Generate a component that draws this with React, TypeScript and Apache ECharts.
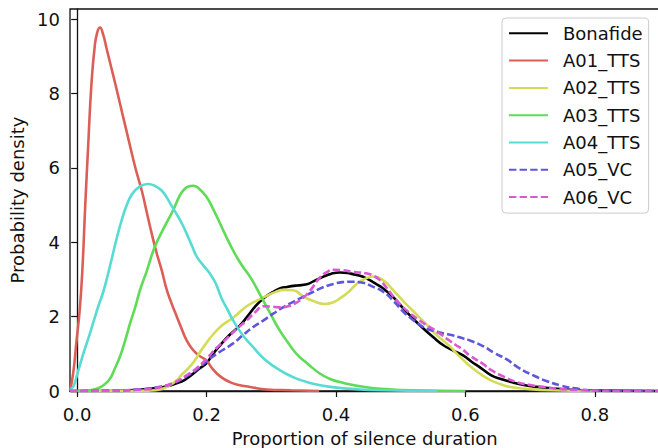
import React, { useEffect, useRef } from "react";
import * as echarts from "echarts";

const seriesNames = ["Bonafide", "A01_TTS", "A02_TTS", "A03_TTS", "A04_TTS", "A05_VC", "A06_VC"];
const seriesColors = ["#000000", "#db5f57", "#d3db57", "#5fdb57", "#57dbd3", "#5f57db", "#db57d3"];
const seriesDashed = [false, false, false, false, false, true, true];

const xTicks = [0, 0.2, 0.4, 0.6, 0.8];
const yTicks = [0, 2, 4, 6, 8, 10];

const bonafide: [number, number][] = [
  [-0.011, 0], [0.05, 0], [0.1, 0.04], [0.13, 0.1], [0.144, 0.15], [0.159, 0.24], [0.169, 0.33],
  [0.19, 0.62], [0.2, 0.75], [0.21, 1.0], [0.221, 1.23], [0.235, 1.5], [0.252, 1.77], [0.265, 2.05],
  [0.277, 2.31], [0.29, 2.52], [0.303, 2.67], [0.315, 2.77], [0.324, 2.8], [0.34, 2.84], [0.355, 2.87],
  [0.365, 2.95], [0.38, 3.07], [0.392, 3.15], [0.406, 3.19], [0.422, 3.16], [0.437, 3.1], [0.447, 3.03],
  [0.46, 2.9], [0.473, 2.76], [0.49, 2.5], [0.504, 2.22], [0.52, 1.93], [0.535, 1.68], [0.55, 1.45],
  [0.566, 1.23], [0.58, 1.1], [0.597, 0.95], [0.61, 0.78], [0.623, 0.63], [0.64, 0.42], [0.655, 0.32],
  [0.669, 0.25], [0.69, 0.16], [0.71, 0.11], [0.757, 0.04], [0.8, 0.01], [0.9, 0],
];

const a01: [number, number][] = [
  [-0.011, 0], [-0.006, 0.5], [-0.001, 1.35], [0.004, 2.2], [0.008, 3.25], [0.0125, 5.0], [0.017, 6.6],
  [0.022, 8.25], [0.027, 9.25], [0.031, 9.65], [0.0352, 9.78], [0.04, 9.6], [0.0456, 9.2], [0.052, 8.75],
  [0.0584, 8.3], [0.07, 7.45], [0.08, 6.72], [0.09, 6.0], [0.0997, 5.4], [0.107, 4.85], [0.115, 4.25],
  [0.123, 3.7], [0.1306, 3.25], [0.138, 2.75], [0.146, 2.35], [0.154, 2.0], [0.162, 1.65], [0.169, 1.37],
  [0.177, 1.15], [0.185, 1.0], [0.193, 0.9], [0.2, 0.82], [0.21, 0.58], [0.222, 0.38], [0.236, 0.24],
  [0.25, 0.16], [0.267, 0.11], [0.293, 0.04], [0.33, 0.02], [0.374, 0],
];

const a02: [number, number][] = [
  [-0.011, 0], [0.08, 0], [0.11, 0.01], [0.128, 0.04], [0.14, 0.12], [0.154, 0.29], [0.162, 0.45],
  [0.169, 0.56], [0.18, 0.78], [0.19, 1.05], [0.2, 1.3], [0.21, 1.52], [0.225, 1.78], [0.241, 1.97],
  [0.262, 2.28], [0.28, 2.45], [0.293, 2.56], [0.306, 2.66], [0.319, 2.72], [0.334, 2.71], [0.349, 2.55],
  [0.365, 2.42], [0.383, 2.34], [0.395, 2.38], [0.406, 2.49], [0.417, 2.63], [0.432, 2.88], [0.445, 3.02],
  [0.458, 3.08], [0.475, 2.95], [0.489, 2.7], [0.505, 2.4], [0.525, 2.05], [0.545, 1.7], [0.556, 1.5],
  [0.576, 1.2], [0.587, 1.0], [0.607, 0.67], [0.623, 0.46], [0.638, 0.3], [0.655, 0.18], [0.669, 0.11],
  [0.7, 0.05], [0.731, 0.02], [0.8, 0],
];

const a03: [number, number][] = [
  [0, 0], [0.015, 0.01], [0.03, 0.06], [0.04, 0.15], [0.0507, 0.33], [0.058, 0.6], [0.066, 0.92],
  [0.074, 1.35], [0.0816, 1.81], [0.09, 2.27], [0.097, 2.71], [0.107, 3.2], [0.12, 3.88], [0.135, 4.42],
  [0.1485, 4.87], [0.157, 5.2], [0.164, 5.4], [0.172, 5.5], [0.179, 5.52], [0.188, 5.45], [0.2, 5.22],
  [0.21, 4.9], [0.221, 4.5], [0.236, 3.95], [0.252, 3.45], [0.268, 3.05], [0.283, 2.58], [0.298, 2.1],
  [0.313, 1.63], [0.326, 1.3], [0.339, 1.0], [0.357, 0.72], [0.375, 0.47], [0.39, 0.33], [0.406, 0.24],
  [0.447, 0.1], [0.48, 0.05], [0.519, 0.02], [0.6, 0],
];

const a04: [number, number][] = [
  [-0.011, 0.05], [-0.006, 0.12], [0, 0.45], [0.0094, 1.0], [0.017, 1.4], [0.025, 1.85], [0.033, 2.3],
  [0.04, 2.65], [0.047, 3.1], [0.054, 3.6], [0.061, 4.1], [0.068, 4.55], [0.0765, 5.0], [0.085, 5.3],
  [0.095, 5.48], [0.109, 5.57], [0.12, 5.52], [0.13, 5.4], [0.138, 5.22], [0.146, 4.98], [0.154, 4.75],
  [0.162, 4.5], [0.169, 4.24], [0.177, 3.92], [0.185, 3.61], [0.195, 3.38], [0.205, 3.16], [0.214, 2.9],
  [0.223, 2.5], [0.232, 2.2], [0.241, 1.9], [0.256, 1.5], [0.272, 1.18], [0.29, 0.85], [0.313, 0.56],
  [0.334, 0.37], [0.355, 0.24], [0.391, 0.11], [0.43, 0.05], [0.468, 0.02], [0.556, 0],
];

const a05: [number, number][] = [
  [-0.011, 0], [0.05, 0.01], [0.1, 0.05], [0.13, 0.12], [0.15, 0.22], [0.169, 0.4], [0.185, 0.58],
  [0.2, 0.8], [0.22, 1.05], [0.241, 1.28], [0.256, 1.5], [0.272, 1.72], [0.288, 1.9], [0.303, 2.08],
  [0.318, 2.25], [0.334, 2.4], [0.35, 2.54], [0.365, 2.67], [0.38, 2.79], [0.396, 2.88], [0.41, 2.93],
  [0.422, 2.94], [0.442, 2.91], [0.455, 2.82], [0.473, 2.67], [0.49, 2.4], [0.504, 2.13], [0.52, 1.9],
  [0.535, 1.72], [0.55, 1.62], [0.566, 1.55], [0.58, 1.5], [0.597, 1.41], [0.607, 1.36], [0.628, 1.2],
  [0.645, 1.02], [0.664, 0.85], [0.68, 0.65], [0.705, 0.42], [0.725, 0.27], [0.747, 0.15], [0.77, 0.07],
  [0.793, 0.02], [0.85, 0], [0.9, 0],
];

const a06: [number, number][] = [
  [-0.011, 0], [0.05, 0.01], [0.1, 0.04], [0.128, 0.1], [0.15, 0.23], [0.169, 0.42], [0.185, 0.62],
  [0.2, 0.87], [0.215, 1.15], [0.231, 1.41], [0.246, 1.66], [0.262, 1.9], [0.275, 2.12], [0.288, 2.28],
  [0.3, 2.27], [0.313, 2.25], [0.326, 2.28], [0.339, 2.38], [0.35, 2.52], [0.36, 2.7], [0.375, 3.05],
  [0.386, 3.2], [0.396, 3.26], [0.41, 3.25], [0.427, 3.2], [0.445, 3.17], [0.458, 3.1], [0.468, 2.98],
  [0.478, 2.78], [0.493, 2.45], [0.509, 2.17], [0.525, 1.95], [0.54, 1.77], [0.556, 1.6], [0.571, 1.41],
  [0.584, 1.25], [0.597, 1.1], [0.607, 0.95], [0.628, 0.72], [0.638, 0.58], [0.66, 0.38], [0.679, 0.24],
  [0.7, 0.16], [0.72, 0.11], [0.75, 0.05], [0.784, 0.02], [0.85, 0], [0.9, 0],
];

const allData = [bonafide, a01, a02, a03, a04, a05, a06];

const FONT = "DejaVu Sans";
const INK = "#111111";

export default function App() {
  const ref = useRef<HTMLDivElement>(null);
  useEffect(() => {
    if (!ref.current) return;
    const chart = echarts.init(ref.current, null, { renderer: "svg" });
    chart.setOption({
      animation: false,
      backgroundColor: "#ffffff",
      grid: {
        left: 70,
        top: 9,
        width: 589.5,
        height: 382,
        outerBoundsMode: "none",
        containLabel: false,
        show: true,
        borderColor: INK,
        borderWidth: 1.3,
        backgroundColor: "transparent",
      },
      legend: {
        orient: "vertical",
        left: 502,
        top: 18,
        data: seriesNames,
        itemWidth: 39,
        itemHeight: 14,
        itemGap: 9.3,
        padding: [6.3, 6, 7, 6],
        backgroundColor: "rgba(255,255,255,0.85)",
        borderColor: "#cccccc",
        borderWidth: 1,
        borderRadius: 4,
        itemStyle: { opacity: 0 },
        textStyle: {
          fontFamily: FONT,
          fontSize: 18,
          color: INK,
          lineHeight: 18,
          padding: [0, 0, 0, 10],
        },
      },
      xAxis: {
        type: "value",
        min: -0.0111,
        max: 0.9,
        name: "Proportion of silence duration",
        nameLocation: "middle",
        nameGap: 38,
        nameTextStyle: { fontFamily: FONT, fontSize: 18, color: INK },
        splitLine: { show: false },
        axisLine: { show: true, onZero: false, lineStyle: { color: INK, width: 1.3 } },
        axisTick: { show: true, length: 6, customValues: xTicks, lineStyle: { color: INK, width: 1.2 } },
        axisLabel: {
          customValues: xTicks,
          margin: 14,
          fontFamily: FONT,
          fontSize: 18,
          color: INK,
          formatter: (v: number) => v.toFixed(1),
        },
      },
      yAxis: {
        type: "value",
        min: 0,
        max: 10.277,
        name: "Probability density",
        nameLocation: "middle",
        nameGap: 43,
        nameTextStyle: { fontFamily: FONT, fontSize: 18, color: INK },
        splitLine: { show: false },
        axisLine: { show: true, lineStyle: { color: INK, width: 1.3 } },
        axisTick: { show: true, length: 6, customValues: yTicks, lineStyle: { color: INK, width: 1.2 } },
        axisLabel: {
          customValues: yTicks,
          margin: 10,
          fontFamily: FONT,
          fontSize: 18,
          color: INK,
          formatter: (v: number) => String(v),
        },
      },
      series: seriesNames.map((name, i) => ({
        name,
        type: "line",
        data: allData[i],
        symbol: "none",
        showSymbol: false,
        smooth: 0.5,
        clip: true,
        color: seriesColors[i],
        lineStyle: {
          color: seriesColors[i],
          width: 2.6,
          type: seriesDashed[i] ? [7.4, 3.2] : "solid",
        },
      })),
    });
    return () => chart.dispose();
  }, []);
  return <div ref={ref} style={{ width: 658, height: 448, position: "fixed", left: 0, top: 0 }} />;
}
